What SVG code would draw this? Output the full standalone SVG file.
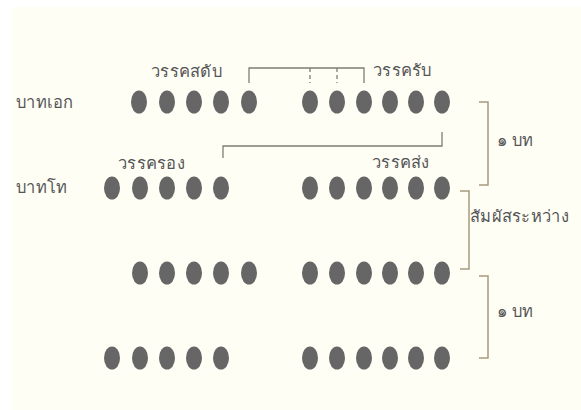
<svg xmlns="http://www.w3.org/2000/svg" width="581" height="410" viewBox="0 0 581 410">
<style>
.bg{fill:#fefef5}
.dot{fill:#666666}
.lbl{font-family:"Noto Sans","DejaVu Sans",sans-serif;font-size:16.5px;letter-spacing:0.3px;fill:#555555}
.con{fill:none;stroke:#7d7d72;stroke-width:1.3}
.dash{fill:none;stroke:#7d7d72;stroke-width:1.3;stroke-dasharray:4,3}
.br{fill:none;stroke:#a69a80;stroke-width:1.5}
</style>
<defs>
<ellipse id="d" class="dot" cx="0" cy="0" rx="8" ry="11.5"/>
</defs>
<rect x="0" y="0" width="581" height="410" fill="#ffffff"/>
<rect class="bg" x="12" y="7" width="569" height="403"/>
<g id="connectors">
<path class="con" d="M249,83 V68 H364 V83"/>
<path class="dash" d="M310,68 V83 M337,68 V83"/>
<path class="con" d="M442,132 V146 H223 V158"/>
<path class="br" d="M479,102 H488 V185 H479"/>
<path class="br" d="M460,191 H469 V269 H460"/>
<path class="br" d="M479,276 H488 V358 H479"/>
</g>
<g id="row1">
<use href="#d" x="139" y="102"/><use href="#d" x="167" y="102"/><use href="#d" x="194" y="102"/><use href="#d" x="221" y="102"/><use href="#d" x="249" y="102"/>
<use href="#d" x="310" y="102"/><use href="#d" x="337" y="102"/><use href="#d" x="364" y="102"/><use href="#d" x="390" y="102"/><use href="#d" x="416" y="102"/><use href="#d" x="442" y="102"/>
</g>
<g id="row2">
<use href="#d" x="112" y="188"/><use href="#d" x="140" y="188"/><use href="#d" x="167" y="188"/><use href="#d" x="194" y="188"/><use href="#d" x="221" y="188"/>
<use href="#d" x="310" y="188"/><use href="#d" x="337" y="188"/><use href="#d" x="364" y="188"/><use href="#d" x="390" y="188"/><use href="#d" x="416" y="188"/><use href="#d" x="442" y="188"/>
</g>
<g id="row3">
<use href="#d" x="140" y="273"/><use href="#d" x="167" y="273"/><use href="#d" x="194" y="273"/><use href="#d" x="221" y="273"/><use href="#d" x="249" y="273"/>
<use href="#d" x="310" y="273"/><use href="#d" x="337" y="273"/><use href="#d" x="364" y="273"/><use href="#d" x="390" y="273"/><use href="#d" x="416" y="273"/><use href="#d" x="442" y="273"/>
</g>
<g id="row4">
<use href="#d" x="112" y="358"/><use href="#d" x="140" y="358"/><use href="#d" x="167" y="358"/><use href="#d" x="194" y="358"/><use href="#d" x="221" y="358"/>
<use href="#d" x="310" y="358"/><use href="#d" x="337" y="358"/><use href="#d" x="364" y="358"/><use href="#d" x="390" y="358"/><use href="#d" x="416" y="358"/><use href="#d" x="442" y="358"/>
</g>
<g id="labels">
<text class="lbl" x="16" y="108">บาทเอก</text>
<text class="lbl" x="16" y="193">บาทโท</text>
<text class="lbl" x="151" y="77">วรรคสดับ</text>
<text class="lbl" x="373" y="76">วรรครับ</text>
<text class="lbl" x="118" y="169">วรรครอง</text>
<text class="lbl" x="372" y="168">วรรคส่ง</text>
<text class="lbl" x="497" y="146">๑ บท</text>
<text class="lbl" x="497" y="317">๑ บท</text>
<text class="lbl" x="470" y="222">สัมผัสระหว่าง</text>
</g>
</svg>
